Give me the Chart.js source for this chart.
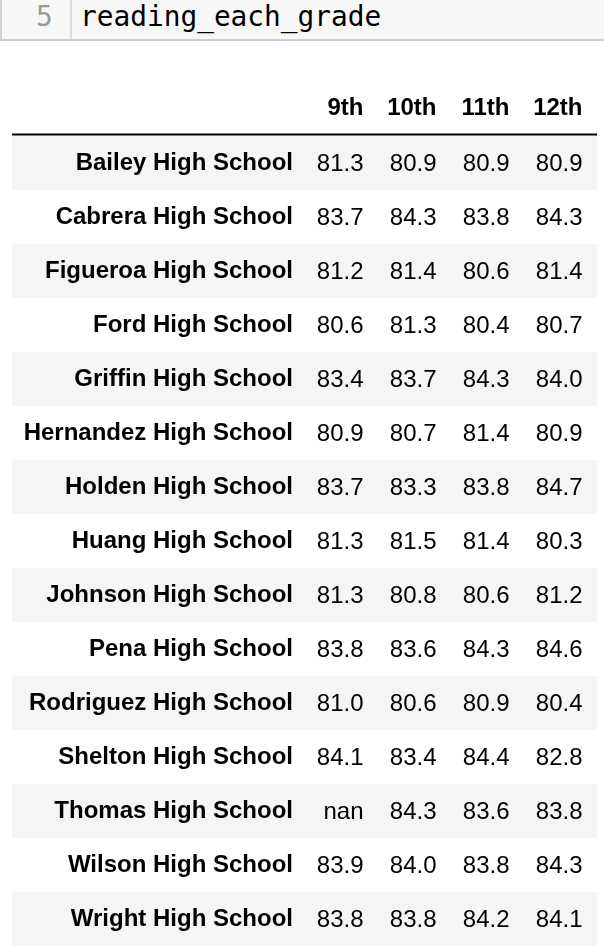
<!DOCTYPE html>
<html>
<head>
<meta charset="utf-8">
<script src="https://cdn.jsdelivr.net/npm/chart.js@4/dist/chart.umd.min.js"></script>
<style>
  html, body { margin: 0; padding: 0; background: #fff; }
  body { width: 604px; height: 946px; position: relative; overflow: hidden; }
  .cell {
    position: absolute; left: 0; top: -2px; width: 640px; height: 43px;
    background: #f7f7f7; border: 2px solid #cfcfcf; box-sizing: border-box; z-index: 2;
  }
  .cell .divider { position: absolute; left: 68px; top: 0; bottom: 0; width: 2px; background: #dddddd; }
  .cell .num, .cell .code {
    position: absolute; top: 3px; font-family: 'DejaVu Sans Mono', monospace;
    font-size: 27.8px; line-height: 27.8px; white-space: pre;
  }
  .cell .num { left: 34px; color: #9a9a9a; }
  .cell .code { left: 78px; color: #000; }
  #wrap { position: absolute; left: 0; top: 0; width: 604px; height: 946px; }
</style>
</head>
<body>
<div class="cell">
  <div class="divider"></div>
  <span class="num">5</span>
  <span class="code">reading_each_grade</span>
</div>
<div id="wrap"><canvas id="tableChart"></canvas></div>
<script>
// column and row labels
const grades = ['9th', '10th', '11th', '12th'];
const schools = [
    'Bailey High School', 'Cabrera High School', 'Figueroa High School', 'Ford High School',
    'Griffin High School', 'Hernandez High School', 'Holden High School', 'Huang High School',
    'Johnson High School', 'Pena High School', 'Rodriguez High School', 'Shelton High School',
    'Thomas High School', 'Wilson High School', 'Wright High School'
];

// average reading score per grade (null = nan)
const grade9  = [81.3, 83.7, 81.2, 80.6, 83.4, 80.9, 83.7, 81.3, 81.3, 83.8, 81.0, 84.1, null, 83.9, 83.8];
const grade10 = [80.9, 84.3, 81.4, 81.3, 83.7, 80.7, 83.3, 81.5, 80.8, 83.6, 80.6, 83.4, 84.3, 84.0, 83.8];
const grade11 = [80.9, 83.8, 80.6, 80.4, 84.3, 81.4, 83.8, 81.4, 80.6, 84.3, 80.9, 84.4, 83.6, 83.8, 84.2];
const grade12 = [80.9, 84.3, 81.4, 80.7, 84.0, 80.9, 84.7, 80.3, 81.2, 84.6, 80.4, 82.8, 83.8, 84.3, 84.1];

const columns = [grade9, grade10, grade11, grade12];

Chart.defaults.font.family = "'Liberation Sans', Arial, Helvetica, sans-serif";
Chart.defaults.color = '#000';

// stripes + header rule behind the cells
const tableBackground = {
    id: 'tableBackground',
    beforeDraw(chart) {
        const ctx = chart.ctx;
        const y = chart.scales.y;
        const area = chart.chartArea;
        const rowH = (area.bottom - area.top) / schools.length;
        ctx.save();
        ctx.fillStyle = '#f5f5f5';
        schools.forEach((s, i) => {
            if (i % 2 === 0) {
                const cy = y.getPixelForValue(i);
                ctx.fillRect(12, cy - rowH / 2, area.right + 1 - 12, rowH);
            }
        });
        ctx.fillStyle = '#000';
        ctx.fillRect(12, area.top - 2.5, area.right + 1 - 12, 2);
        ctx.restore();
    }
};

// write each value at its point, right aligned inside the column
const cellText = {
    id: 'cellText',
    afterDatasetsDraw(chart) {
        const ctx = chart.ctx;
        ctx.save();
        ctx.font = "24px 'Liberation Sans', Arial, sans-serif";
        ctx.fillStyle = '#000';
        ctx.textAlign = 'right';
        ctx.textBaseline = 'middle';
        chart.data.datasets.forEach((ds, di) => {
            const meta = chart.getDatasetMeta(di);
            meta.data.forEach((pt, i) => {
                const v = ds.data[i].v;
                const txt = v === null ? 'nan' : v.toFixed(1);
                ctx.fillText(txt, pt.x + 23, pt.y + 1);
            });
        });
        ctx.restore();
    }
};

const datasets = grades.map((g, gi) => ({
    label: g,
    data: schools.map((s, si) => ({ x: g, y: s, v: columns[gi][si] })),
    pointRadius: 0,
    pointHoverRadius: 0
}));

new Chart(document.getElementById('tableChart'), {
    type: 'scatter',
    data: { datasets: datasets },
    options: {
        responsive: true,
        maintainAspectRatio: false,
        animation: false,
        events: [],
        layout: { padding: { left: 0, right: 8, top: 0, bottom: 0 } },
        plugins: {
            legend: { display: false },
            tooltip: { enabled: false }
        },
        scales: {
            x: {
                type: 'category',
                labels: grades,
                position: 'top',
                offset: true,
                grid: { display: false, drawTicks: false },
                border: { display: false },
                ticks: {
                    align: 'end',
                    labelOffset: 23,
                    padding: 13,
                    font: { size: 24, weight: 'bold' }
                },
                afterFit(scale) {
                    scale.height = 136;
                    scale.paddingLeft = 0;
                    scale.paddingRight = 0;
                }
            },
            y: {
                type: 'category',
                labels: schools,
                offset: true,
                grid: { display: false, drawTicks: false },
                border: { display: false },
                ticks: {
                    padding: 11,
                    font: { size: 24, weight: 'bold' }
                },
                afterFit(scale) {
                    scale.width = 304;
                    scale.paddingTop = 0;
                    scale.paddingBottom = 0;
                }
            }
        }
    },
    plugins: [tableBackground, cellText]
});
</script>
</body>
</html>
